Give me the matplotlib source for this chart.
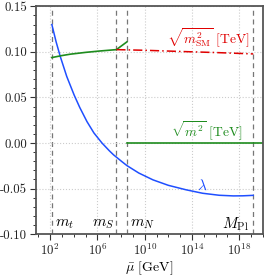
import numpy as np
import matplotlib
matplotlib.use('Agg')
import matplotlib.pyplot as plt
from matplotlib.ticker import LogLocator, MultipleLocator, FuncFormatter, NullFormatter

plt.rcParams['font.family'] = 'cmr10'
plt.rcParams['mathtext.fontset'] = 'cm'
plt.rcParams['axes.formatter.use_mathtext'] = True

# scales (GeV)
m_t = 1.5e2
m_S = 4e7
m_N = 3e8
M_Pl = 1.5e19

# lambda (blue), log10(mu) vs value
lam_logmu = [2.14, 2.5, 2.85, 3.4, 4.03, 4.5, 5.11, 5.7, 6.38, 7.0, 7.36, 8.07, 8.49,
             9.5, 10.7, 12.0, 13.5, 14.9, 16.3, 17.5, 18.3, 19.18]
lam_val = [0.1300, 0.111, 0.0950, 0.073, 0.0525, 0.039, 0.0235, 0.011, 0.0, -0.0085,
           -0.0130, -0.0205, -0.0248, -0.033, -0.0405, -0.0465, -0.0514, -0.0552,
           -0.0574, -0.0581, -0.0580, -0.0575]

# sqrt(m^2) below m_N (green)
m2_logmu = [2.14, 3.0, 3.7, 5.0, 6.2, 7.6, 8.49]
m2_val = [0.0938, 0.0960, 0.0975, 0.0995, 0.1010, 0.1025, 0.111]

# sqrt(m^2) above m_N (green, flat)
m2hi_logmu = [8.49, 20.0]
m2hi_val = [0.0, 0.0]

# sqrt(m^2_SM) (red dash-dot)
sm_logmu = [7.6, 10.0, 13.0, 16.0, 19.18]
sm_val = [0.1025, 0.1018, 0.1005, 0.0993, 0.0978]

blue = '#1f4fff'
green = '#1e8c1e'
red = '#e00000'

fig = plt.figure(figsize=(2.65, 2.77), dpi=100)
ax = fig.add_axes([0.136, 0.155, 0.856, 0.822])

ax.plot(10**np.array(lam_logmu), lam_val, color=blue, lw=1.1)
ax.plot(10**np.array(m2_logmu), m2_val, color=green, lw=1.2)
ax.plot(10**np.array(m2hi_logmu), m2hi_val, color=green, lw=1.2)
ax.plot(10**np.array(sm_logmu), sm_val, color=red, lw=1.1, linestyle=(0, (6, 2, 1, 2)))

for s in [m_t, m_S, m_N, M_Pl]:
    ax.axvline(s, color='#777777', lw=0.9, linestyle=(0, (4, 3)), zorder=0)

ax.set_xscale('log')
ax.set_xlim(10**0.8, 1e20)
ax.set_ylim(-0.10, 0.15)

ax.set_xticks([1e2, 1e6, 1e10, 1e14, 1e18])
ax.xaxis.set_minor_locator(LogLocator(base=10.0, subs=(1.0,), numticks=30))
ax.xaxis.set_minor_formatter(NullFormatter())
ax.yaxis.set_major_locator(MultipleLocator(0.05))
ax.yaxis.set_minor_locator(MultipleLocator(0.01))
ax.yaxis.set_major_formatter(FuncFormatter(lambda v, p: '%.2f' % v if abs(v) > 1e-9 else '0.00'))

ax.tick_params(which='major', direction='out', length=4, width=0.8, pad=2.5,
               colors='#333333', labelsize=9.3, labelcolor='#222222')
ax.tick_params(which='minor', direction='out', length=2.5, width=0.7, colors='#333333')
for sp in ax.spines.values():
    sp.set_color('#555555')
    sp.set_linewidth(1.3)

ax.grid(True, which='major', color='#cccccc', linestyle=':', lw=0.8, zorder=0)

ax.text(10**2.4, -0.089, r'$m_t$', fontsize=11, va='center', ha='left')
ax.text(10**7.4, -0.089, r'$m_S$', fontsize=11, va='center', ha='right')
ax.text(10**8.75, -0.089, r'$m_N$', fontsize=11, va='center', ha='left')
ax.text(10**18.8, -0.089, r'$M_{\rm Pl}$', fontsize=11, va='center', ha='right')

ax.text(10**11.9, 0.1155, r'$\sqrt{m^2_{\rm SM}}\ [{\rm TeV}]$', color=red, fontsize=9.8, va='center', ha='left')
ax.text(10**12.2, 0.0125, r'$\sqrt{m^2}\ [{\rm TeV}]$', color=green, fontsize=9.8, va='center', ha='left')
ax.text(10**14.9, -0.0465, r'$\lambda$', color=blue, fontsize=11, va='center', ha='center')

ax.set_xlabel(r'$\bar{\mu}$ [GeV]', fontsize=10, labelpad=0.5)

fig.savefig('out.png', dpi=100)
